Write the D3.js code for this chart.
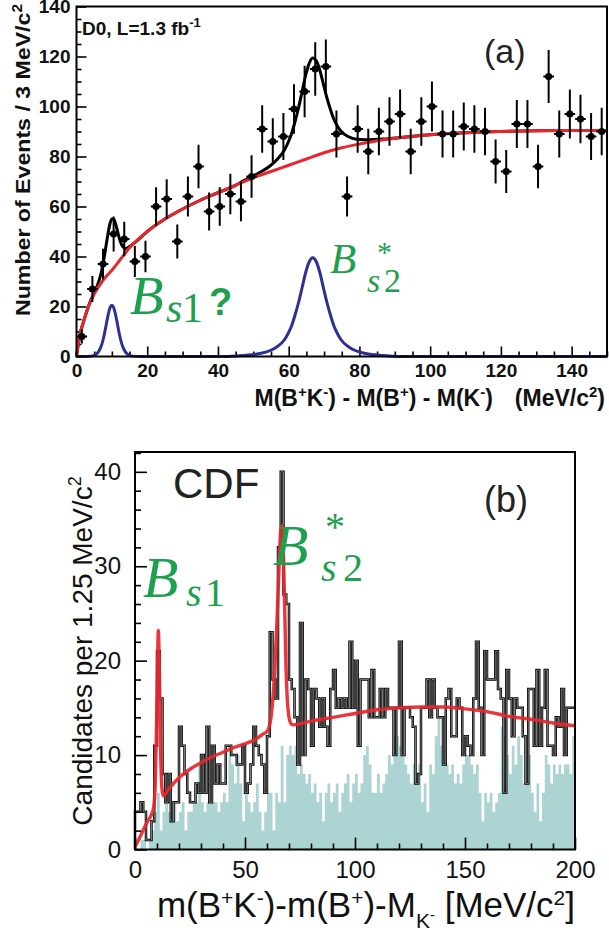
<!DOCTYPE html>
<html><head><meta charset="utf-8">
<script src="https://cdn.jsdelivr.net/npm/d3@7"></script>
<style>body{margin:0;background:#fff} svg{display:block}</style>
</head><body>
<svg id="c" width="609" height="934"></svg>
<script>
// ---------- Panel (a): D0 ----------
const massA = [1.5,4.5,7.5,10.5,13.5,16.5,19.5,22.5,25.5,28.5,31.5,34.5,37.5,40.5,43.5,46.5,49.5,52.5,55.5,58.5,61.5,64.5,67.5,70.5,73.5,76.5,79.5,82.5,85.5,88.5,91.5,94.5,97.5,100.5,103.5,106.5,109.5,112.5,115.5,118.5,121.5,124.5,127.5,130.5,133.5,136.5,139.5,142.5,145.5,148.5];
const eventsA = [8,27,37,49,47,38,40,60,63,46,64,76,58,60,65,62,72,91,86,88,99,106,115,116,89,64,91,82,90,94,97,82,94,100,89,89,92,91,90,78,74,93,93,76,112,89,97,95,88,90];
const errorsA = [2.8,5.2,6.1,7,6.9,6.2,6.3,7.7,7.9,6.8,8,8.7,7.6,7.7,8.1,7.9,8.5,9.5,9.3,9.4,9.9,10.3,10.7,10.8,9.4,8,9.5,9.1,9.5,9.7,9.8,9.1,9.7,10,9.4,9.4,9.6,9.5,9.5,8.8,8.6,9.6,9.6,8.7,10.6,9.4,9.8,9.7,9.4,9.5];
const bkgA = [[0,0],[1,9],[2,14],[3,18.5],[4,22],[5,25],[7.5,30.5],[10,34.5],[12.5,39],[15,43.5],[20,50],[25,55],[30,59],[35,62.5],[40,65.5],[45,68.5],[50,71.5],[55,74],[60,76.5],[65,79],[70,81.5],[75,83.5],[80,85],[85,86.3],[90,87.3],[100,88.7],[110,89.5],[120,90],[130,90.3],[140,90.4],[150,90.4]];
const totalA = [[0,0],[1,9],[2,14],[3,18.5],[4,22.4],[5,25.5],[6,28.8],[7,33.6],[7.5,37.1],[8,41.1],[8.5,45.6],[9,49.9],[9.5,53.3],[10,55],[10.5,55],[11,53.3],[11.5,50.7],[12,47.9],[12.5,45.6],[13,44.1],[13.5,43.4],[14,43.2],[15,44],[16,45],[18,47.4],[20,50],[25,55],[30,59],[35,62.5],[40,65.5],[45,68.5],[46.8,70],[51.8,73.6],[54.8,76.3],[56.8,78.9],[58.8,82.6],[59.8,85.5],[60.8,89.1],[61.8,94],[62.8,99.6],[63.8,106],[64.8,112.5],[65.8,117.3],[66.8,119.4],[67.8,118.3],[68.8,114.5],[69.8,109],[70.8,103.5],[71.8,98.8],[72.8,94.8],[73.8,92.1],[74.8,90.1],[76.8,88],[78.8,87],[81.8,86.7],[86.8,87],[91.8,87.6],[100,88.7],[110,89.5],[120,90],[130,90.3],[140,90.4],[150,90.4]];
const signalA = [[0,0],[2,0],[4,0.15],[5,0.5],[6,1.5],[6.5,2.6],[7,4.2],[7.5,6.6],[8,9.8],[8.5,13.5],[9,17],[9.5,19.6],[10,20.5],[10.5,19.6],[11,17],[11.5,13.5],[12,9.8],[12.5,6.6],[13,4.2],[13.5,2.6],[14,1.5],[15,0.5],[16,0.15],[18,0],[41.8,0],[46.8,0.4],[51.8,1.2],[54.8,2.4],[56.8,4],[58.8,6.7],[59.8,9.1],[60.8,12.2],[61.8,16.6],[62.8,21.7],[63.8,27.6],[64.8,33.6],[65.8,37.9],[66.8,39.5],[67.8,37.9],[68.8,33.6],[69.8,27.6],[70.8,21.7],[71.8,16.6],[72.8,12.2],[73.8,9.1],[74.8,6.7],[76.8,4],[78.8,2.4],[81.8,1.2],[86.8,0.4],[91.8,0],[150,0]];
const ticksAY = [0,20,40,60,80,100,120,140];
const ticksAX = [0,20,40,60,80,100,120,140];

// ---------- Panel (b): CDF ----------
const binWidthB = 1.25;
const candidatesB = [4,4,5,4,1,1,3,11,21,16,8,5,8,3,5,5,13,11,8,6,5,5,7,6,10,6,13,5,11,7,9,7,7,11,11,10,10,9,9,11,6,7,9,13,11,10,9,6,12,23,18,16,32,40,27,26,18,17,14,9,24,10,18,17,11,17,16,13,16,13,11,17,19,15,16,15,16,15,22,15,20,11,18,18,18,14,19,14,14,17,14,17,15,15,10,15,22,10,15,15,14,13,7,8,15,15,18,14,18,15,14,14,9,16,17,12,12,16,15,10,12,11,10,16,22,15,10,21,18,18,18,21,17,16,6,19,16,12,16,15,15,12,7,17,17,11,19,11,15,19,11,11,10,14,13,17,10,15,15,15];
const wrongSignB = [0,0,1,1,0,1,2,4,6,2,4,6,4,3,5,3,4,5,2,4,4,5,5,9,5,4,5,5,5,5,4,5,6,5,11,9,7,10,7,3,7,5,4,5,7,4,2,4,6,6,2,6,5,11,5,10,11,10,11,8,9,8,7,8,6,7,5,6,3,6,7,5,6,7,4,6,7,8,5,7,8,6,7,10,11,9,6,6,8,6,7,8,10,9,12,12,11,10,9,8,7,9,8,9,5,7,4,9,8,12,14,11,9,9,8,9,7,8,7,9,10,10,9,8,9,6,3,6,5,6,4,5,6,13,12,10,8,11,9,12,10,7,7,10,6,4,7,3,6,10,9,7,9,8,9,8,9,9,8,12];
const fitB = [[0,0.3],[2,1.2],[4,2.2],[6,3.1],[7.5,3.7],[8.5,4.5],[9.2,7],[9.7,12],[10.2,19],[10.6,23.2],[11,20],[11.5,12],[12,7.5],[12.5,6],[13,5.7],[15,6.3],[20,7.6],[25,8.5],[30,9.2],[35,9.8],[40,10.3],[45,10.8],[50,11.2],[55,11.7],[58,12.2],[60,12.5],[61.5,13.5],[62.5,15.5],[63.5,19],[64.5,24],[65.5,30],[66.3,34],[66.8,34.3],[67.5,31],[68,26],[68.6,19.5],[69.2,16],[70,14],[71,13.3],[72,13.2],[80,13.6],[90,14],[100,14.4],[110,14.8],[120,15],[130,15.1],[140,15.1],[150,14.9],[160,14.6],[170,14.1],[180,13.8],[190,13.4],[200,13.1]];
const ticksBY = [0,10,20,30,40];
const ticksBX = [0,50,100,150,200];

const svg = d3.select("#c");
const GREEN = "#1ea04e", RED = "#e8262c", BLUE = "#2e3192", TEAL = "#acd4d3";
const SANS = "'Liberation Sans', Arial, sans-serif";
const SERIF = "'Liberation Serif', 'Times New Roman', serif";

function styleAxis(g, fs, bold) {
  g.select(".domain").remove();
  g.selectAll("line").attr("stroke", "#000").attr("stroke-width", 1.6);
  g.selectAll("text").attr("font-family", SANS).attr("font-size", fs)
    .attr("font-weight", bold ? "bold" : "normal").attr("fill", "#111");
}
function gtext(g, x, y, s, size, italic) {
  return g.append("text").attr("x", x).attr("y", y).attr("fill", GREEN)
    .attr("font-family", SERIF).attr("font-style", italic ? "italic" : "normal")
    .attr("font-size", size).text(s);
}

// ===== Panel (a) =====
const xa = d3.scaleLinear().domain([0,150]).range([76.5,607]);
const ya = d3.scaleLinear().domain([0,140]).range([356.5,6.5]);
const ga = svg.append("g");

const minorAY = d3.range(0,141,5).filter(v=>v%20);
const minorAX = d3.range(0,151,5).filter(v=>v%20);
ga.append("g").attr("transform","translate(76.5,0)")
  .call(d3.axisLeft(ya).tickValues(minorAY).tickSize(-5).tickFormat(""))
  .call(g=>styleAxis(g,19,true));
ga.append("g").attr("transform","translate(76.5,0)")
  .call(d3.axisLeft(ya).tickValues(ticksAY).tickSize(-10).tickPadding(6).tickFormat(d3.format("d")))
  .call(g=>styleAxis(g,19,true));
ga.append("g").attr("transform","translate(0,356.5)")
  .call(d3.axisBottom(xa).tickValues(minorAX).tickSize(-5).tickFormat(""))
  .call(g=>styleAxis(g,19,true));
ga.append("g").attr("transform","translate(0,356.5)")
  .call(d3.axisBottom(xa).tickValues(ticksAX).tickSize(-10).tickPadding(7).tickFormat(d3.format("d")))
  .call(g=>styleAxis(g,19,true));

const lineA = d3.line().x(d=>xa(d[0])).y(d=>ya(d[1])).curve(d3.curveMonotoneX);
ga.append("path").attr("d", lineA(signalA)).attr("fill","none").attr("stroke",BLUE).attr("stroke-width",3);
ga.append("path").attr("d", lineA(totalA)).attr("fill","none").attr("stroke","#000").attr("stroke-width",3);
ga.append("path").attr("d", lineA(bkgA)).attr("fill","none").attr("stroke",RED).attr("stroke-width",3);

const pts = ga.append("g");
massA.forEach((m,i)=>{
  const v = eventsA[i], e = errorsA[i];
  pts.append("line").attr("x1",xa(m)).attr("x2",xa(m)).attr("y1",ya(v-e)).attr("y2",ya(v+e)).attr("stroke","#000").attr("stroke-width",2);
  pts.append("line").attr("x1",xa(m-1.5)).attr("x2",xa(m+1.5)).attr("y1",ya(v)).attr("y2",ya(v)).attr("stroke","#000").attr("stroke-width",2);
  pts.append("circle").attr("cx",xa(m)).attr("cy",ya(v)).attr("r",3.6).attr("fill","#000");
});
ga.append("rect").attr("x",76.5).attr("y",6.5).attr("width",530.5).attr("height",350).attr("fill","none").attr("stroke","#000").attr("stroke-width",2);

// texts (a)
ga.append("text").attr("transform","translate(30,160) rotate(-90)").attr("text-anchor","middle")
  .attr("font-family",SANS).attr("font-weight","bold").attr("font-size",21).attr("fill","#111")
  .attr("textLength",312).attr("lengthAdjust","spacingAndGlyphs")
  .html('Number of Events / 3 MeV/c<tspan dy="-8" font-size="14">2</tspan>');
ga.append("text").attr("x",605).attr("y",406).attr("text-anchor","end")
  .attr("font-family",SANS).attr("font-weight","bold").attr("font-size",23).attr("fill","#111")
  .html('M(B<tspan dy="-9" font-size="15">+</tspan><tspan dy="9">K</tspan><tspan dy="-9" font-size="15">-</tspan><tspan dy="9">) - M(B</tspan><tspan dy="-9" font-size="15">+</tspan><tspan dy="9">) - M(K</tspan><tspan dy="-9" font-size="15">-</tspan><tspan dy="9">)</tspan><tspan dx="22">(MeV/c</tspan><tspan dy="-9" font-size="15">2</tspan><tspan dy="9">)</tspan>');
ga.append("text").attr("x",82).attr("y",35).attr("font-family",SANS).attr("font-weight","bold").attr("font-size",19).attr("fill","#111")
  .html('D0, L=1.3 fb<tspan dy="-8" font-size="13">-1</tspan>');
ga.append("text").attr("x",484).attr("y",63).attr("font-family",SANS).attr("font-size",34).attr("fill","#222").text("(a)");
// green labels (a)
gtext(ga,130,314,"B",55,true);
gtext(ga,166,322,"s",42,true);
gtext(ga,182,322,"1",42,false);
ga.append("text").attr("x",209).attr("y",315).attr("fill",GREEN).attr("font-family",SANS).attr("font-weight","bold").attr("font-size",38).text("?");
gtext(ga,330,273,"B",43,true);
gtext(ga,377,262,"*",30,false);
gtext(ga,367,292,"s",34,true);
gtext(ga,384,292,"2",34,false);

// ===== Panel (b) =====
const xb = d3.scaleLinear().domain([0,200]).range([135,575]);
const yb = d3.scaleLinear().domain([0,42.1]).range([849.5,452]);
const gb = svg.append("g");

const histPts = (vals) => { const p=[[0,0]]; vals.forEach((v,i)=>p.push([i*binWidthB,v])); p.push([vals.length*binWidthB, vals[vals.length-1]]); return p; };
const areaB = d3.area().x(d=>xb(d[0])).y0(yb(0)).y1(d=>yb(d[1])).curve(d3.curveStepAfter);
gb.append("path").attr("d", areaB(histPts(wrongSignB))).attr("fill",TEAL);
const stepB = d3.line().x(d=>xb(d[0])).y(d=>yb(d[1])).curve(d3.curveStepAfter);
gb.append("path").attr("d", stepB(histPts(candidatesB))).attr("fill","none").attr("stroke","#000").attr("stroke-width",2.5);
gb.append("path").attr("d", stepB(histPts(candidatesB))).attr("fill","none").attr("stroke","#9a9a9a").attr("stroke-width",0.8);
const lineB = d3.line().x(d=>xb(d[0])).y(d=>yb(d[1])).curve(d3.curveMonotoneX);
gb.append("path").attr("d", lineB(fitB)).attr("fill","none").attr("stroke",RED).attr("stroke-width",3.4).attr("stroke-opacity",0.92);

const minorBY = d3.range(0,43,2).filter(v=>v%10);
const minorBX = d3.range(0,201,10).filter(v=>v%50);
gb.append("g").attr("transform","translate(135,0)")
  .call(d3.axisLeft(yb).tickValues(minorBY).tickSize(-6).tickFormat(""))
  .call(g=>styleAxis(g,24,false));
gb.append("g").attr("transform","translate(135,0)")
  .call(d3.axisLeft(yb).tickValues(ticksBY).tickSize(-12).tickPadding(14).tickFormat(d3.format("d")))
  .call(g=>styleAxis(g,24,false));
gb.append("g").attr("transform","translate(0,849.5)")
  .call(d3.axisBottom(xb).tickValues(minorBX).tickSize(-6).tickFormat(""))
  .call(g=>styleAxis(g,24,false));
gb.append("g").attr("transform","translate(0,849.5)")
  .call(d3.axisBottom(xb).tickValues(ticksBX).tickSize(-12).tickPadding(11).tickFormat(d3.format("d")))
  .call(g=>styleAxis(g,24,false));
gb.append("rect").attr("x",135).attr("y",452).attr("width",440).attr("height",397.5).attr("fill","none").attr("stroke","#000").attr("stroke-width",2);

gb.append("text").attr("transform","translate(92,651) rotate(-90)").attr("text-anchor","middle")
  .attr("font-family",SANS).attr("font-size",28).attr("fill","#111")
  .html('Candidates per 1.25 MeV/c<tspan dy="-11" font-size="18">2</tspan>');
gb.append("text").attr("x",575).attr("y",917).attr("text-anchor","end")
  .attr("font-family",SANS).attr("font-size",35).attr("fill","#111")
  .html('m(B<tspan dy="-12" font-size="21">+</tspan><tspan dy="12">K</tspan><tspan dy="-12" font-size="21">-</tspan><tspan dy="12">)-m(B</tspan><tspan dy="-12" font-size="21">+</tspan><tspan dy="12">)-M</tspan><tspan dy="11" font-size="21">K</tspan><tspan dy="-8" font-size="15">-</tspan><tspan dy="-3"> [MeV/c</tspan><tspan dy="-12" font-size="21">2</tspan><tspan dy="12">]</tspan>');
gb.append("text").attr("x",173).attr("y",498).attr("font-family",SANS).attr("font-size",42).attr("fill","#222").text("CDF");
gb.append("text").attr("x",484).attr("y",512).attr("font-family",SANS).attr("font-size",36).attr("fill","#222").text("(b)");
gtext(gb,143,597,"B",58,true);
gtext(gb,186,606,"s",40,true);
gtext(gb,205,606,"1",40,false);
gtext(gb,273,565,"B",58,true);
gtext(gb,325,540,"*",40,false);
gtext(gb,321,581,"s",40,true);
gtext(gb,343,581,"2",40,false);
</script></body></html>
